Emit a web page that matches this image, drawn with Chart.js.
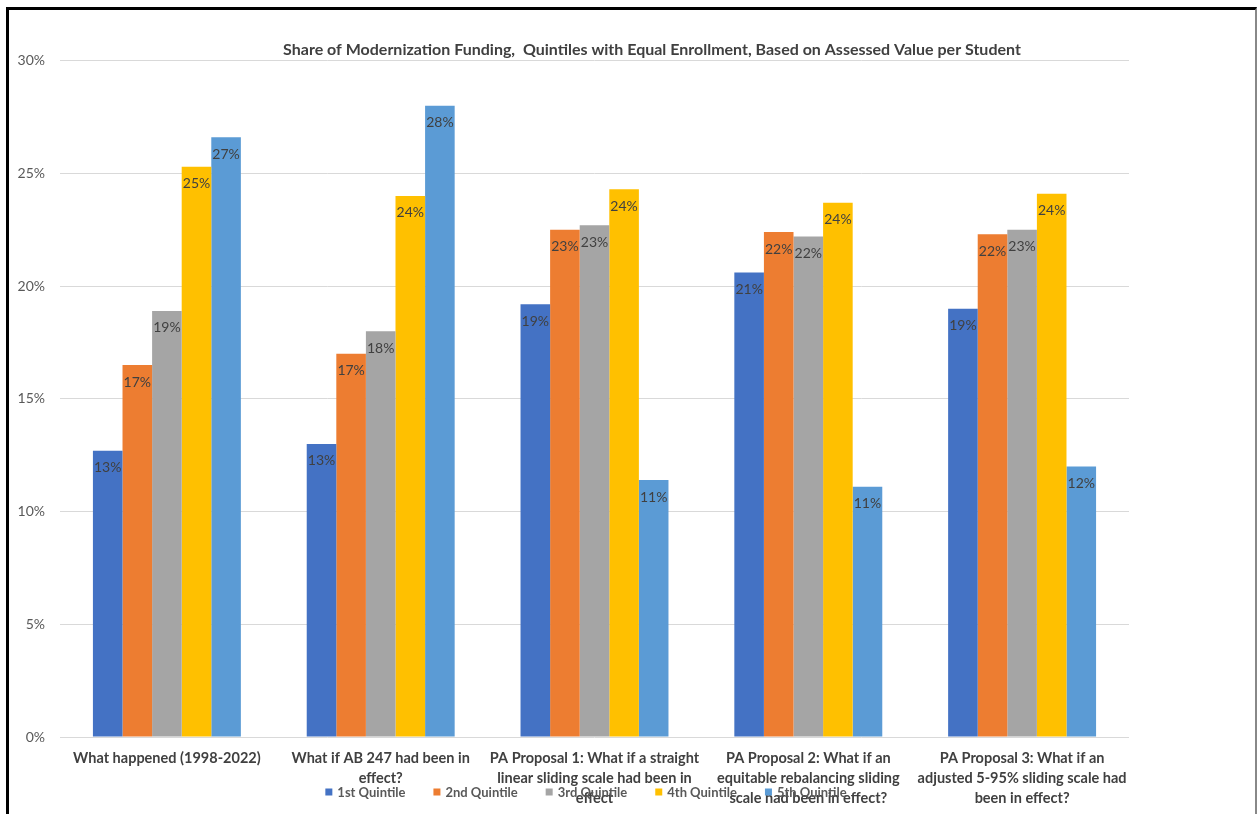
<!DOCTYPE html>
<html>
<head>
<meta charset="utf-8">
<title>Share of Modernization Funding</title>
<script src="https://cdn.jsdelivr.net/npm/chart.js@4.4.1/dist/chart.umd.min.js"></script>
<style>
  html, body { margin: 0; padding: 0; background: #fff; }
  #wrap { position: relative; width: 1257px; height: 814px; overflow: hidden; }
  #frame {
    position: absolute; left: 6px; top: 7px; width: 1246px; height: 820px;
    border-top: 3px solid #000; border-left: 3px solid #000; border-right: 2px solid #888;
    pointer-events: none;
  }
  canvas { position: absolute; left: 0; top: 0; }
</style>
</head>
<body>
<div id="wrap">
  <canvas id="chart" width="1257" height="814"></canvas>
  <div id="frame"></div>
</div>
<script>
// Chart data
const categories = [
  'What happened (1998-2022)',
  ['What if AB 247 had been in', 'effect?'],
  ['PA Proposal 1: What if a straight', 'linear sliding scale had been in', 'effect'],
  ['PA Proposal 2: What if an', 'equitable rebalancing sliding', 'scale had been in effect?'],
  ['PA Proposal 3: What if an', 'adjusted 5-95% sliding scale had', 'been in effect?'],
];
const seriesNames = ['1st Quintile', '2nd Quintile', '3rd Quintile', '4th Quintile', '5th Quintile'];
const quintile1 = [12.7, 13.0, 19.2, 20.6, 19.0];
const quintile2 = [16.5, 17.0, 22.5, 22.4, 22.3];
const quintile3 = [18.9, 18.0, 22.7, 22.2, 22.5];
const quintile4 = [25.3, 24.0, 24.3, 23.7, 24.1];
const quintile5 = [26.6, 28.0, 11.4, 11.1, 12.0];
const seriesColors = ['#4472C4', '#ED7D31', '#A5A5A5', '#FFC000', '#5B9BD5'];
const yTicks = [0, 5, 10, 15, 20, 25, 30];

const FONT = 'Lato, "Open Sans", sans-serif';

// Value labels inside the end of each bar
const barLabels = {
  id: 'barLabels',
  afterDatasetsDraw(chart) {
    const ctx = chart.ctx;
    ctx.save();
    ctx.font = '14px ' + FONT;
    ctx.fillStyle = '#404040';
    ctx.textAlign = 'center';
    ctx.textBaseline = 'middle';
    chart.data.datasets.forEach((ds, i) => {
      chart.getDatasetMeta(i).data.forEach((bar, j) => {
        ctx.fillText(Math.round(ds.data[j]) + '%', bar.x, bar.y + 17);
      });
    });
    ctx.restore();
  },
};

// Legend drawn over the category labels, like the original
const overlayLegend = {
  id: 'overlayLegend',
  afterDraw(chart) {
    const ctx = chart.ctx;
    ctx.save();
    ctx.font = 'bold 13px ' + FONT;
    ctx.textBaseline = 'middle';
    const box = 7, gap = 5, spacing = 28;
    const widths = chart.data.datasets.map((ds) => box + gap + ctx.measureText(ds.label).width);
    const total = widths.reduce((a, b) => a + b, 0) + spacing * (widths.length - 1);
    let x = 586 - total / 2;
    const y = 792;
    chart.data.datasets.forEach((ds, i) => {
      ctx.fillStyle = ds.backgroundColor;
      ctx.fillRect(x, y - box / 2, box, box);
      ctx.fillStyle = '#595959';
      ctx.fillText(ds.label, x + box + gap, y + 1);
      x += widths[i] + spacing;
    });
    ctx.restore();
  },
};

// The original title sits right of the plot centre
const shiftTitle = {
  id: 'shiftTitle',
  afterLayout(chart) {
    const t = chart.titleBlock;
    if (t) t.left = 2 * 652 - t.right;
  },
};

const quintiles = [quintile1, quintile2, quintile3, quintile4, quintile5];

new Chart(document.getElementById('chart').getContext('2d'), {
  type: 'bar',
  data: {
    labels: categories,
    datasets: quintiles.map((values, i) => ({
      label: seriesNames[i],
      data: values,
      backgroundColor: seriesColors[i],
      borderWidth: 0,
      categoryPercentage: 0.692,
      barPercentage: 1.0,
    })),
  },
  options: {
    responsive: false,
    animation: false,
    devicePixelRatio: 1,
    layout: { padding: { left: 0, right: 128, top: 0, bottom: 0 } },
    plugins: {
      legend: { display: false },
      tooltip: { enabled: false },
      title: {
        display: true,
        text: 'Share of Modernization Funding,  Quintiles with Equal Enrollment, Based on Assessed Value per Student',
        color: '#404040',
        font: { family: FONT, size: 16, weight: 'bold' },
        padding: { top: 40, bottom: 1.5 },
      },
    },
    scales: {
      x: {
        afterFit(scale) { scale.height = 77; },
        grid: { display: false, drawTicks: false },
        border: { display: false },
        ticks: {
          color: '#404040',
          font: { family: FONT, size: 14.5, weight: 'bold', lineHeight: 1.38 },
          padding: 11,
          maxRotation: 0,
          autoSkip: false,
        },
      },
      y: {
        min: 0,
        max: 30,
        afterFit(scale) { scale.width = 60; },
        afterBuildTicks(scale) { scale.ticks = yTicks.map((v) => ({ value: v })); },
        grid: { color: '#D9D9D9', lineWidth: 1, drawTicks: false },
        border: { display: false },
        ticks: {
          color: '#595959',
          font: { family: FONT, size: 14 },
          padding: 15,
          callback: (v) => v + '%',
        },
      },
    },
  },
  plugins: [barLabels, overlayLegend, shiftTitle],
});
</script>
</body>
</html>
